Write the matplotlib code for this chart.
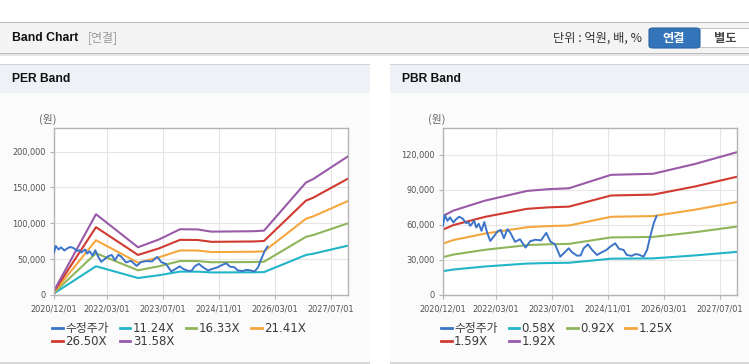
import numpy as np
import matplotlib
matplotlib.use("Agg")
import matplotlib.pyplot as plt
from matplotlib.patches import Rectangle, FancyBboxPatch
from matplotlib.ticker import FuncFormatter

plt.rcParams['font.family'] = ['DejaVu Sans', 'Noto Sans CJK KR']

W, H = 749, 364

# month offsets from 2020/12/01
tick_months = [0, 15, 31, 47, 63, 79]
tick_labels = ['2020/12/01', '2022/03/01', '2023/07/01', '2024/11/01', '2026/03/01', '2027/07/01']

# adjusted close (수정주가)
price_months = [0.0, 0.5, 1.3, 2.0, 3.0, 3.6, 4.6, 5.6, 6.6, 7.2, 7.8, 8.9, 9.5, 10.2, 11.0, 11.8,
                12.6, 13.5, 14.6, 15.6, 16.5, 17.4, 18.4, 19.2, 20.6, 22.0, 23.6, 24.9, 26.3, 28.0,
                29.5, 30.7, 32.0, 33.5, 34.6, 35.9, 36.9, 38.3, 39.3, 40.2, 41.4, 42.6, 44.0, 45.0,
                46.7, 47.8, 49.2, 50.3, 51.6, 52.5, 53.9, 55.0, 56.0, 57.3, 58.3, 59.2, 60.2, 61.0]
price = [59500, 68500, 63500, 66500, 62000, 64500, 67000, 65500, 61500, 62500, 59200, 63500, 57800,
         61000, 55000, 62500, 53500, 46300, 50500, 54500, 55800, 48600, 56300, 53500, 45500, 47700,
         40600, 46000, 47300, 46800, 53200, 45700, 43400, 32800, 36000, 40000, 36500, 33700, 33800,
         40000, 43400, 38600, 34300, 36000, 38600, 41400, 44300, 39500, 38600, 34300, 33500, 35000,
         34500, 32800, 38600, 50000, 61400, 67500]

# EPS / BPS knots behind the bands
eps_months = [0, 12, 24, 30, 36, 41, 45, 57, 60, 72, 74, 84]
eps = [190, 3569, 2109, 2454, 2904, 2897, 2799, 2818, 2844, 4971, 5117, 6127]
per_multiples = [11.24, 16.33, 21.41, 26.50, 31.58]

bps_months = [0, 3, 12, 24, 30, 36, 48, 60, 72, 84]
bps = [35260, 37660, 42080, 46410, 47190, 47600, 53590, 54060, 58440, 63700]
pbr_multiples = [0.58, 0.92, 1.25, 1.59, 1.92]

price_color = '#3b74c8'
band_colors = ['#22b5c8', '#8fb55a', '#f5a73f', '#d03a30', '#995aa8']


def fx(x):
    return x / W


def fy(y):
    return 1 - y / H


def box(x0, y0, x1, y1, color, **kw):
    fig.add_artist(Rectangle((fx(x0), fy(y1)), fx(x1 - x0), (y1 - y0) / H,
                             transform=fig.transFigure, facecolor=color,
                             edgecolor='none', lw=0, zorder=-10, **kw))


fig = plt.figure(figsize=(W / 100, H / 100), dpi=100, facecolor='white')

# top header bar
box(0, 22, W, 53, '#f4f4f4')
box(0, 21.5, W, 23, '#b8b8b8')
box(0, 52.5, W, 54, '#bcbcbc')
box(0, 54, W, 56, '#e6e6e6')
fig.text(fx(12), fy(38), 'Band Chart', fontsize=8.8, fontweight='bold',
         family='Liberation Sans', va='center', ha='left', color='#111')
fig.text(fx(88), fy(38), '[연결]', fontsize=8.6, color='#999999',
         family=['Noto Sans CJK KR'], va='center', ha='left')
fig.text(fx(642), fy(38.5), '단위 : 억원, 배, %', fontsize=8.8, color='#333333',
         family=['Noto Sans CJK KR'], va='center', ha='right')
btn = FancyBboxPatch((fx(649), fy(48)), fx(51), 20 / H, boxstyle='round,pad=0,rounding_size=0.006',
                     transform=fig.transFigure, facecolor='#3474b8', edgecolor='#2a64a4', lw=0.8,
                     zorder=-5)
fig.add_artist(btn)
box(700, 28, 749, 48, 'white')
box(700, 28, 749, 28.8, '#c4c4c4')
box(700, 47.2, 749, 48, '#c4c4c4')
fig.text(fx(674), fy(38.5), '연결', fontsize=8.8, fontweight='bold', color='white',
         family=['Noto Sans CJK KR'], va='center', ha='center')
fig.text(fx(725), fy(38.5), '별도', fontsize=8.8, fontweight='bold', color='#444444',
         family=['Noto Sans CJK KR'], va='center', ha='center')

panels = [(0, 370, 'PER Band', 54), (390, W, 'PBR Band', 443)]
for x0, x1, title, ax_left in panels:
    box(x0, 64, x1, 93, '#eef2f7')
    box(x0, 63.5, x1, 65, '#d2d2d2')
    box(x0, 93, x1, 362, '#fbfbfb')
    box(x0, 362, x1, 363.5, '#d8d8d8')
    fig.text(fx(x0 + 12), fy(79.5), title, fontsize=8.7, fontweight='bold',
             family='Liberation Sans', va='center', ha='left', color='#111')
    fig.text(fx(ax_left - 6), fy(119), '(원)', fontsize=7.8, color='#666666',
             family=['Noto Sans CJK KR'], va='center', ha='center')


def make_axes(left, base_months, base, multiples, ymax, ystep):
    ax = fig.add_axes([fx(left), fy(295), 294 / W, 167 / H])
    ax.set_facecolor('white')
    bands = []
    for mult, col in zip(multiples, band_colors):
        h, = ax.plot(base_months, np.array(base) * mult, color=col, lw=1.5,
                     label=f'{mult:.2f}X', solid_joinstyle='round')
        bands.append(h)
    hp, = ax.plot(price_months, price, color=price_color, lw=1.4, label='수정주가', zorder=5)
    ax.set_xlim(0, 84)
    ax.set_ylim(0, ymax)
    ax.set_xticks(tick_months)
    ax.set_xticklabels(tick_labels)
    ax.set_yticks(np.arange(0, ymax, ystep))
    ax.yaxis.set_major_formatter(FuncFormatter(lambda v, p: f'{int(v):,}'))
    ax.grid(True, color='#e6e6e6', lw=0.8)
    ax.set_axisbelow(True)
    for s in ax.spines.values():
        s.set_color('#b4b4b4')
        s.set_linewidth(1.0)
    ax.tick_params(axis='both', length=3, color='#b4b4b4', labelsize=5.9, labelcolor='#505050')
    ax.tick_params(axis='y', pad=3)
    ax.tick_params(axis='x', pad=3.5)
    # legend fills column by column; order so rows read price, b1, b2, b3 / b4, b5
    order = [hp, bands[3], bands[0], bands[4], bands[1], bands[2]]
    leg = fig.legend(order, [h.get_label() for h in order],
                     loc='upper left', bbox_to_anchor=(fx(left - 2), fy(322)),
                     bbox_transform=fig.transFigure, ncol=4, frameon=False, fontsize=8.5,
                     handlelength=0.9, handletextpad=0.2, columnspacing=0.95,
                     labelspacing=0.0, borderpad=0, borderaxespad=0)
    for t in leg.get_texts():
        t.set_color('#3a3a3a')
    for lh in leg.legend_handles:
        lh.set_linewidth(2)
    return ax


make_axes(54, eps_months, eps, per_multiples, 233000, 50000)
make_axes(443, bps_months, bps, pbr_multiples, 143000, 30000)

fig.savefig('out.png', dpi=100, facecolor='white')
